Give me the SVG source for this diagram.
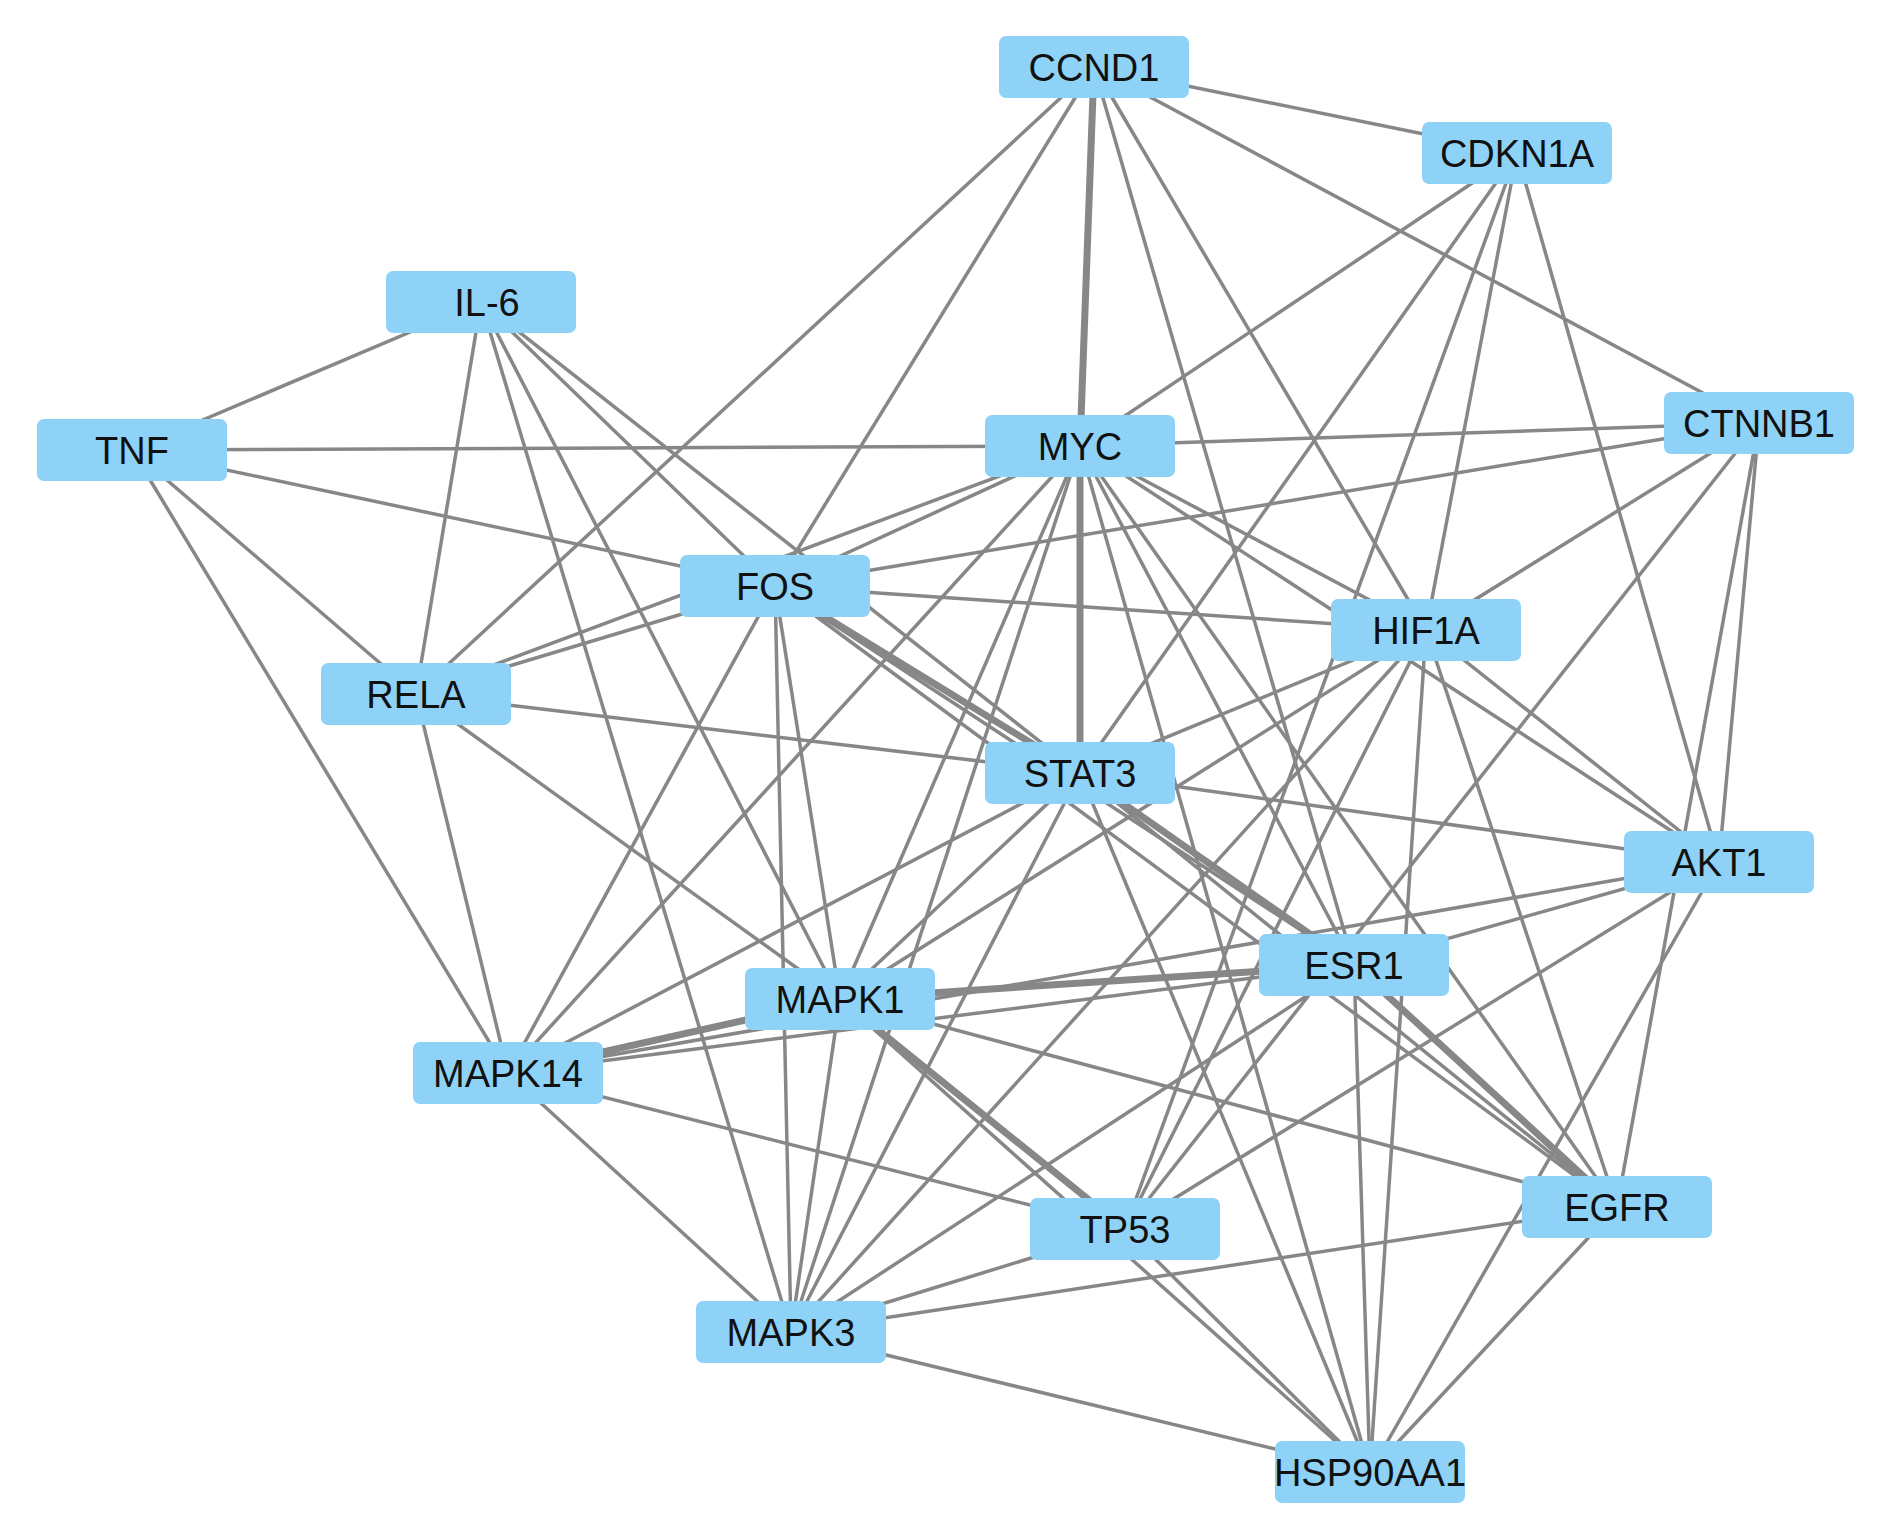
<svg xmlns="http://www.w3.org/2000/svg" width="1890" height="1533" viewBox="0 0 1890 1533">
<style>
.e{stroke:#878787;stroke-width:3.5;fill:none}
.t{stroke:#878787;stroke-width:7;fill:none}
.n rect{fill:#8ED3F7}
.n text{font-family:"Liberation Sans",Arial,sans-serif;font-size:38px;fill:#111;text-anchor:middle}
</style>
<rect width="1890" height="1533" fill="#fff"/>
<g id="edges">
<line class="e" x1="1094" y1="67" x2="1517" y2="153"/>
<line class="e" x1="1094" y1="67" x2="1759" y2="423"/>
<line class="t" x1="1094" y1="67" x2="1080" y2="446"/>
<line class="e" x1="1094" y1="67" x2="416" y2="694"/>
<line class="e" x1="1094" y1="67" x2="775" y2="586"/>
<line class="e" x1="1094" y1="67" x2="1354" y2="965"/>
<line class="e" x1="1094" y1="67" x2="1426" y2="630"/>
<line class="e" x1="1517" y1="153" x2="1080" y2="446"/>
<line class="e" x1="1517" y1="153" x2="1080" y2="773"/>
<line class="e" x1="1517" y1="153" x2="1125" y2="1229"/>
<line class="e" x1="1517" y1="153" x2="1426" y2="630"/>
<line class="e" x1="1517" y1="153" x2="1719" y2="862"/>
<line class="e" x1="1759" y1="423" x2="1080" y2="446"/>
<line class="e" x1="1759" y1="423" x2="775" y2="586"/>
<line class="e" x1="1759" y1="423" x2="1426" y2="630"/>
<line class="e" x1="1759" y1="423" x2="1125" y2="1229"/>
<line class="e" x1="1759" y1="423" x2="1719" y2="862"/>
<line class="e" x1="1759" y1="423" x2="1617" y2="1207"/>
<line class="e" x1="481" y1="302" x2="132" y2="450"/>
<line class="e" x1="481" y1="302" x2="416" y2="694"/>
<line class="e" x1="481" y1="302" x2="791" y2="1332"/>
<line class="e" x1="481" y1="302" x2="840" y2="999"/>
<line class="e" x1="481" y1="302" x2="775" y2="586"/>
<line class="e" x1="481" y1="302" x2="1080" y2="773"/>
<line class="e" x1="132" y1="450" x2="1080" y2="446"/>
<line class="e" x1="132" y1="450" x2="775" y2="586"/>
<line class="e" x1="132" y1="450" x2="416" y2="694"/>
<line class="e" x1="132" y1="450" x2="508" y2="1073"/>
<line class="e" x1="416" y1="694" x2="775" y2="586"/>
<line class="e" x1="416" y1="694" x2="1080" y2="446"/>
<line class="e" x1="416" y1="694" x2="1080" y2="773"/>
<line class="e" x1="416" y1="694" x2="508" y2="1073"/>
<line class="e" x1="416" y1="694" x2="840" y2="999"/>
<line class="e" x1="1080" y1="446" x2="775" y2="586"/>
<line class="e" x1="1080" y1="446" x2="508" y2="1073"/>
<line class="e" x1="1080" y1="446" x2="840" y2="999"/>
<line class="e" x1="1080" y1="446" x2="791" y2="1332"/>
<line class="t" x1="1080" y1="446" x2="1080" y2="773"/>
<line class="e" x1="1080" y1="446" x2="1370" y2="1472"/>
<line class="e" x1="1080" y1="446" x2="1426" y2="630"/>
<line class="e" x1="1080" y1="446" x2="1719" y2="862"/>
<line class="e" x1="1080" y1="446" x2="1354" y2="965"/>
<line class="e" x1="1080" y1="446" x2="1617" y2="1207"/>
<line class="t" x1="775" y1="586" x2="1080" y2="773"/>
<line class="e" x1="775" y1="586" x2="1426" y2="630"/>
<line class="e" x1="775" y1="586" x2="791" y2="1332"/>
<line class="e" x1="775" y1="586" x2="840" y2="999"/>
<line class="e" x1="775" y1="586" x2="508" y2="1073"/>
<line class="e" x1="775" y1="586" x2="1354" y2="965"/>
<line class="e" x1="775" y1="586" x2="1617" y2="1207"/>
<line class="e" x1="1426" y1="630" x2="1080" y2="773"/>
<line class="e" x1="1426" y1="630" x2="840" y2="999"/>
<line class="e" x1="1426" y1="630" x2="791" y2="1332"/>
<line class="e" x1="1426" y1="630" x2="1125" y2="1229"/>
<line class="e" x1="1426" y1="630" x2="1370" y2="1472"/>
<line class="e" x1="1426" y1="630" x2="1617" y2="1207"/>
<line class="e" x1="1426" y1="630" x2="1719" y2="862"/>
<line class="e" x1="1080" y1="773" x2="1719" y2="862"/>
<line class="e" x1="1080" y1="773" x2="508" y2="1073"/>
<line class="e" x1="1080" y1="773" x2="840" y2="999"/>
<line class="e" x1="1080" y1="773" x2="791" y2="1332"/>
<line class="e" x1="1080" y1="773" x2="1370" y2="1472"/>
<line class="t" x1="1080" y1="773" x2="1354" y2="965"/>
<line class="e" x1="1080" y1="773" x2="1617" y2="1207"/>
<line class="e" x1="1719" y1="862" x2="508" y2="1073"/>
<line class="e" x1="1719" y1="862" x2="1354" y2="965"/>
<line class="e" x1="1719" y1="862" x2="1125" y2="1229"/>
<line class="e" x1="1719" y1="862" x2="1370" y2="1472"/>
<line class="e" x1="1354" y1="965" x2="508" y2="1073"/>
<line class="t" x1="1354" y1="965" x2="840" y2="999"/>
<line class="t" x1="1354" y1="965" x2="1617" y2="1207"/>
<line class="e" x1="1354" y1="965" x2="1370" y2="1472"/>
<line class="e" x1="1354" y1="965" x2="791" y2="1332"/>
<line class="t" x1="840" y1="999" x2="508" y2="1073"/>
<line class="t" x1="840" y1="999" x2="1125" y2="1229"/>
<line class="e" x1="840" y1="999" x2="1370" y2="1472"/>
<line class="e" x1="840" y1="999" x2="791" y2="1332"/>
<line class="e" x1="840" y1="999" x2="1617" y2="1207"/>
<line class="e" x1="508" y1="1073" x2="1125" y2="1229"/>
<line class="e" x1="508" y1="1073" x2="791" y2="1332"/>
<line class="e" x1="1617" y1="1207" x2="791" y2="1332"/>
<line class="e" x1="1617" y1="1207" x2="1370" y2="1472"/>
<line class="e" x1="1125" y1="1229" x2="791" y2="1332"/>
<line class="e" x1="1125" y1="1229" x2="1370" y2="1472"/>
<line class="e" x1="791" y1="1332" x2="1370" y2="1472"/>
</g>
<g id="CCND1" class="n"><rect x="999" y="36" width="190" height="62" rx="7"/><text x="1094" y="81">CCND1</text></g>
<g id="CDKN1A" class="n"><rect x="1422" y="122" width="190" height="62" rx="7"/><text x="1517" y="167">CDKN1A</text></g>
<g id="IL-6" class="n"><rect x="386" y="271" width="190" height="62" rx="7"/><text x="487" y="316">IL-6</text></g>
<g id="TNF" class="n"><rect x="37" y="419" width="190" height="62" rx="7"/><text x="132" y="464">TNF</text></g>
<g id="MYC" class="n"><rect x="985" y="415" width="190" height="62" rx="7"/><text x="1080" y="460">MYC</text></g>
<g id="CTNNB1" class="n"><rect x="1664" y="392" width="190" height="62" rx="7"/><text x="1759" y="437">CTNNB1</text></g>
<g id="FOS" class="n"><rect x="680" y="555" width="190" height="62" rx="7"/><text x="775" y="600">FOS</text></g>
<g id="HIF1A" class="n"><rect x="1331" y="599" width="190" height="62" rx="7"/><text x="1426" y="644">HIF1A</text></g>
<g id="RELA" class="n"><rect x="321" y="663" width="190" height="62" rx="7"/><text x="416" y="708">RELA</text></g>
<g id="STAT3" class="n"><rect x="985" y="742" width="190" height="62" rx="7"/><text x="1080" y="787">STAT3</text></g>
<g id="AKT1" class="n"><rect x="1624" y="831" width="190" height="62" rx="7"/><text x="1719" y="876">AKT1</text></g>
<g id="ESR1" class="n"><rect x="1259" y="934" width="190" height="62" rx="7"/><text x="1354" y="979">ESR1</text></g>
<g id="MAPK1" class="n"><rect x="745" y="968" width="190" height="62" rx="7"/><text x="840" y="1013">MAPK1</text></g>
<g id="MAPK14" class="n"><rect x="413" y="1042" width="190" height="62" rx="7"/><text x="508" y="1087">MAPK14</text></g>
<g id="EGFR" class="n"><rect x="1522" y="1176" width="190" height="62" rx="7"/><text x="1617" y="1221">EGFR</text></g>
<g id="TP53" class="n"><rect x="1030" y="1198" width="190" height="62" rx="7"/><text x="1125" y="1243">TP53</text></g>
<g id="MAPK3" class="n"><rect x="696" y="1301" width="190" height="62" rx="7"/><text x="791" y="1346">MAPK3</text></g>
<g id="HSP90AA1" class="n"><rect x="1275" y="1441" width="190" height="62" rx="7"/><text x="1370" y="1486">HSP90AA1</text></g>
</svg>
